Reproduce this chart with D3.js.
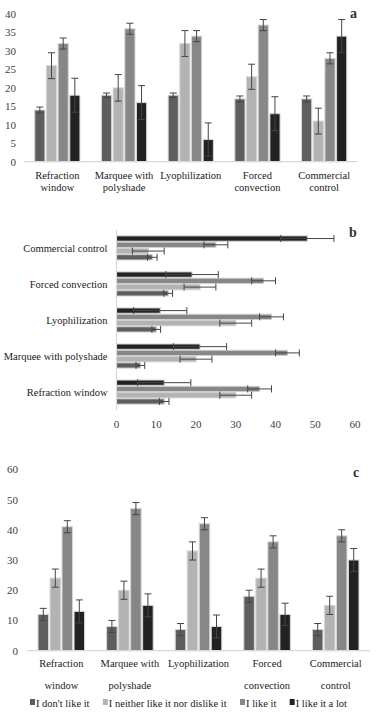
<!DOCTYPE html>
<html>
<head>
<meta charset="utf-8">
<script src="https://cdn.jsdelivr.net/npm/d3@7"></script>
<style>
  html, body { margin: 0; padding: 0; background: #fff; }
  svg { display: block; }
</style>
</head>
<body>
<svg id="chart" width="376" height="713"></svg>
<script>
// categories and series
const categories = ["Refraction window", "Marquee with polyshade", "Lyophilization", "Forced convection", "Commercial control"];
const catLines = [["Refraction", "window"], ["Marquee with", "polyshade"], ["Lyophilization"], ["Forced", "convection"], ["Commercial", "control"]];
const seriesNames = ["I don't like it", "I neither like it nor dislike it", "I like it", "I like it a lot"];
const seriesColors = ["#5e5e5e", "#b3b3b3", "#878787", "#222222"];

// panel a
const aDont = [14, 18, 18, 17, 17];
const aDontErr = [0.8, 0.6, 0.6, 0.8, 0.8];
const aNeither = [26, 20, 32, 23, 11];
const aNeitherErr = [3.5, 3.6, 3.5, 3.4, 3.5];
const aLike = [32, 36, 34, 37, 28];
const aLikeErr = [1.5, 1.5, 1.5, 1.5, 1.5];
const aLot = [18, 16, 6, 13, 34];
const aLotErr = [4.6, 4.6, 4.5, 4.6, 4.5];
const aTicks = [0, 5, 10, 15, 20, 25, 30, 35, 40];

// panel b
const bDont = [12, 6, 10, 13, 9];
const bDontErr = [1.2, 1.1, 1.1, 1.1, 1.2];
const bNeither = [30, 20, 30, 21, 8];
const bNeitherErr = [4, 4, 4, 4, 4];
const bLike = [36, 43, 39, 37, 25];
const bLikeErr = [3, 3, 3, 3, 3];
const bLot = [12, 21, 11, 19, 48];
const bLotErr = [6.7, 6.7, 6.7, 6.6, 6.7];
const bTicks = [0, 10, 20, 30, 40, 50, 60];

// panel c
const cDont = [12, 8, 7, 18, 7];
const cDontErr = [2, 2, 2, 2, 2];
const cNeither = [24, 20, 33, 24, 15];
const cNeitherErr = [3, 3, 3, 3, 3];
const cLike = [41, 47, 42, 36, 38];
const cLikeErr = [2, 2, 2, 2, 2];
const cLot = [13, 15, 8, 12, 30];
const cLotErr = [3.8, 3.8, 3.8, 3.7, 3.8];
const cTicks = [0, 10, 20, 30, 40, 50, 60];

const FONT = '"Liberation Serif", "Times New Roman", serif';
const LABEL_SIZE = 10.5;
const svg = d3.select("#chart");

// apply text styling directly so the serif font sticks
function styleText(sel, size, color, weight) {
  return sel.style("font-family", FONT)
    .style("font-size", size + "px")
    .style("font-weight", weight || "normal")
    .attr("fill", color);
}

function buildRows(vals, errs) {
  const rows = [];
  categories.forEach((c, i) => {
    seriesNames.forEach((s, j) => {
      rows.push({ cat: c, series: s, si: j, value: vals[j][i], err: errs[j][i] });
    });
  });
  return rows;
}

// vertical grouped bars with error bars
function verticalPanel(opts) {
  const g = svg.append("g");
  const x = d3.scaleBand().domain(categories).range(opts.xRange).paddingInner(0.3).paddingOuter(0.15);
  const xs = d3.scaleBand().domain(seriesNames).range([0, x.bandwidth()]);
  const y = d3.scaleLinear().domain(opts.yDomain).range(opts.yRange);

  // tick labels
  styleText(g.selectAll(".tick-label").data(opts.ticks).enter().append("text")
    .attr("class", "tick-label")
    .attr("x", opts.tickX)
    .attr("y", d => y(d) + 4)
    .attr("text-anchor", "end")
    .text(d => d), 11, "#404040");

  const rows = buildRows(opts.vals, opts.errs);

  g.selectAll("rect.bar").data(rows).enter().append("rect")
    .attr("class", "bar")
    .attr("x", d => x(d.cat) + xs(d.series) + 0.75)
    .attr("width", xs.bandwidth() - 1.5)
    .attr("y", d => y(d.value))
    .attr("height", d => y(0) - y(d.value))
    .attr("fill", d => seriesColors[d.si])
    .attr("stroke", "#d6d6d6")
    .attr("stroke-width", 1);

  // axis line
  g.append("line")
    .attr("x1", opts.xRange[0]).attr("x2", opts.xRange[1])
    .attr("y1", y(0)).attr("y2", y(0))
    .attr("stroke", "#d9d9d9").attr("stroke-width", 1.2);

  // error bars
  const eb = g.selectAll("g.err").data(rows).enter().append("g").attr("class", "err")
    .attr("stroke", "#454545").attr("stroke-width", 1);
  const cx = d => x(d.cat) + xs(d.series) + xs.bandwidth() / 2;
  eb.append("line").attr("x1", cx).attr("x2", cx)
    .attr("y1", d => y(d.value + d.err)).attr("y2", d => y(d.value - d.err));
  eb.append("line").attr("x1", d => cx(d) - 3.5).attr("x2", d => cx(d) + 3.5)
    .attr("y1", d => y(d.value + d.err)).attr("y2", d => y(d.value + d.err));
  eb.append("line").attr("x1", d => cx(d) - 3.5).attr("x2", d => cx(d) + 3.5)
    .attr("y1", d => y(d.value - d.err)).attr("y2", d => y(d.value - d.err));

  // category labels
  const lab = styleText(g.selectAll(".cat-label").data(categories).enter().append("text")
    .attr("class", "cat-label")
    .attr("text-anchor", "middle"), LABEL_SIZE, "#1a1a1a");
  lab.each(function(c, i) {
    const t = d3.select(this);
    catLines[i].forEach((ln, k) => {
      t.append("tspan")
        .attr("x", x(c) + x.bandwidth() / 2)
        .attr("y", opts.labelY + k * opts.lineGap)
        .text(ln);
    });
  });

  styleText(g.append("text")
    .attr("x", opts.letterX).attr("y", opts.letterY).text(opts.letter), 14, "#333", "bold");
}

// panel a
verticalPanel({
  vals: [aDont, aNeither, aLike, aLot],
  errs: [aDontErr, aNeitherErr, aLikeErr, aLotErr],
  ticks: aTicks,
  xRange: [24, 357.5],
  yDomain: [0, 40],
  yRange: [161.7, 14],
  tickX: 16,
  labelY: 179,
  lineGap: 12,
  letter: "a", letterX: 350, letterY: 18
});

// panel c
verticalPanel({
  vals: [cDont, cNeither, cLike, cLot],
  errs: [cDontErr, cNeitherErr, cLikeErr, cLotErr],
  ticks: cTicks,
  xRange: [27, 370],
  yDomain: [0, 60],
  yRange: [650.7, 469.3],
  tickX: 18,
  labelY: 666.5,
  lineGap: 22,
  letter: "c", letterX: 353, letterY: 477
});

// panel b: horizontal grouped bars
(function() {
  const g = svg.append("g");
  const bVals = [bDont, bNeither, bLike, bLot];
  const bErrs = [bDontErr, bNeitherErr, bLikeErr, bLotErr];
  const y = d3.scaleBand().domain(categories.slice().reverse()).range([230, 410]).paddingInner(0.305).paddingOuter(0.15);
  const ys = d3.scaleBand().domain(seriesNames.slice().reverse()).range([0, y.bandwidth()]);
  const x = d3.scaleLinear().domain([0, 60]).range([116.5, 355]);
  const rows = buildRows(bVals, bErrs);

  g.selectAll("rect.bar").data(rows).enter().append("rect")
    .attr("x", x(0))
    .attr("width", d => x(d.value) - x(0))
    .attr("y", d => y(d.cat) + ys(d.series) + 0.5)
    .attr("height", ys.bandwidth() - 1)
    .attr("fill", d => seriesColors[d.si])
    .attr("stroke", "#cfcfcf")
    .attr("stroke-width", 1);

  g.append("line")
    .attr("x1", x(0)).attr("x2", x(0))
    .attr("y1", 230).attr("y2", 410)
    .attr("stroke", "#d9d9d9").attr("stroke-width", 1.2);

  const cy = d => y(d.cat) + ys(d.series) + ys.bandwidth() / 2;
  const eb = g.selectAll("g.err").data(rows).enter().append("g")
    .attr("stroke", "#454545").attr("stroke-width", 1);
  eb.append("line").attr("y1", cy).attr("y2", cy)
    .attr("x1", d => x(d.value - d.err)).attr("x2", d => x(d.value + d.err));
  eb.append("line").attr("y1", d => cy(d) - 3.5).attr("y2", d => cy(d) + 3.5)
    .attr("x1", d => x(d.value - d.err)).attr("x2", d => x(d.value - d.err));
  eb.append("line").attr("y1", d => cy(d) - 3.5).attr("y2", d => cy(d) + 3.5)
    .attr("x1", d => x(d.value + d.err)).attr("x2", d => x(d.value + d.err));

  styleText(g.selectAll(".cat-label").data(categories).enter().append("text")
    .attr("class", "cat-label")
    .attr("x", 107.5)
    .attr("y", d => y(d) + y.bandwidth() / 2 + 4)
    .attr("text-anchor", "end")
    .text(d => d), LABEL_SIZE, "#1a1a1a");

  styleText(g.selectAll(".tick-label").data(bTicks).enter().append("text")
    .attr("class", "tick-label")
    .attr("x", d => x(d))
    .attr("y", 428)
    .attr("text-anchor", "middle")
    .text(d => d), 11, "#404040");

  styleText(g.append("text")
    .attr("x", 349).attr("y", 237).text("b"), 14, "#333", "bold");
})();

// legend: measure texts, spread items evenly between 30 and 347
const legend = svg.append("g").selectAll("g").data(seriesNames).enter().append("g");
legend.append("rect").attr("x", 0).attr("y", -4).attr("width", 5).attr("height", 6)
  .attr("fill", (d, i) => seriesColors[i]);
styleText(legend.append("text").attr("x", 6).attr("y", 3.5).text(d => d), LABEL_SIZE, "#1a1a1a");
const widths = [];
legend.each(function() { widths.push(6 + d3.select(this).select("text").node().getComputedTextLength()); });
const gap = (347 - 30 - d3.sum(widths)) / (widths.length - 1);
let lx = 30;
legend.each(function(d, i) {
  d3.select(this).attr("transform", `translate(${lx},703)`);
  lx += widths[i] + gap;
});
</script>
</body>
</html>
